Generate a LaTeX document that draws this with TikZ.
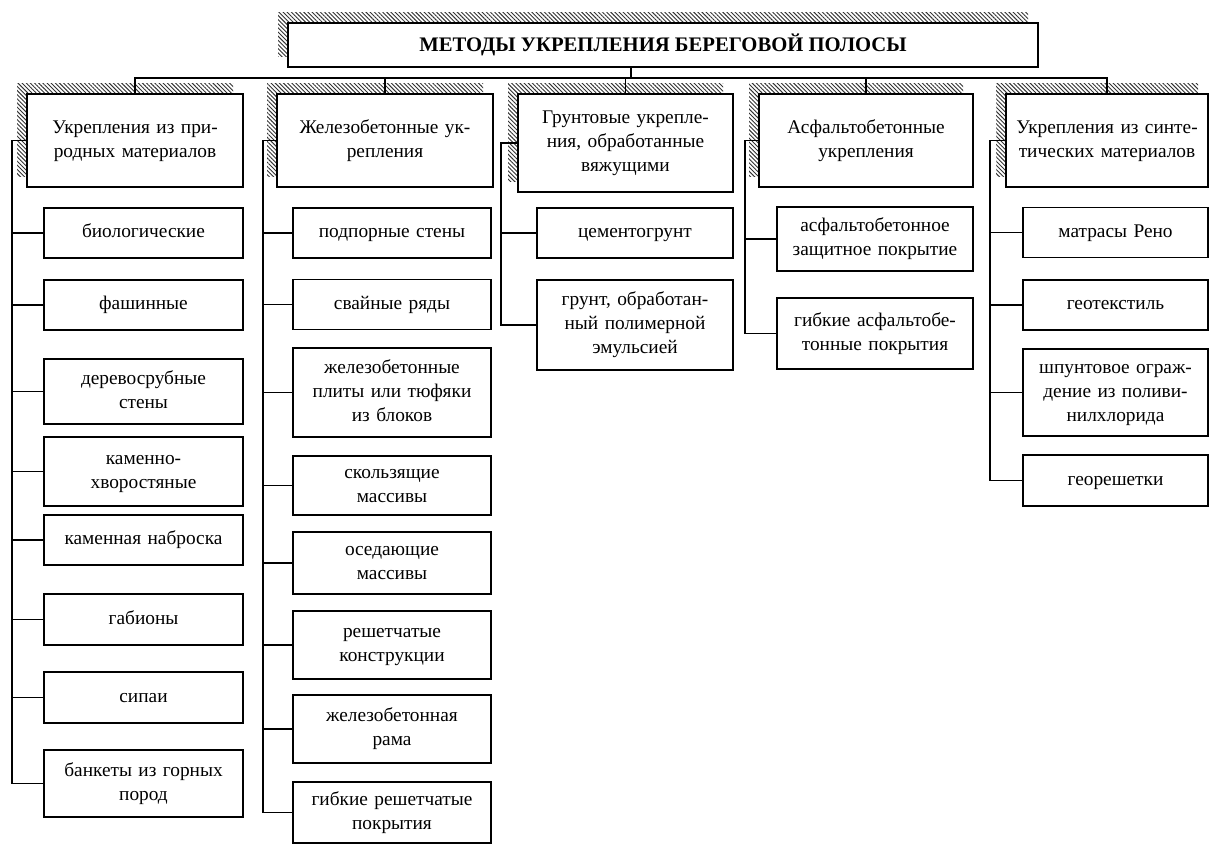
\documentclass[tikz,border=0pt]{standalone}
\usepackage{fontspec}
\setmainfont{Liberation Serif}
\usetikzlibrary{patterns.meta, shadows}

\begin{document}
\begin{tikzpicture}[
    x=0.75pt, y=-0.75pt,
    hatch/.style={general shadow={shadow xshift=-7.5pt, shadow yshift=7.5pt, pattern={Lines[angle=-45, distance=2.2pt, line width=0.7pt]}, pattern color=black!80}},
    titlebox/.style={rectangle, draw, line width=1.8pt, fill=white, hatch, minimum width=562.5pt, minimum height=33pt, font=\fontsize{15.5}{18}\selectfont\bfseries},
    head/.style={rectangle, draw, line width=1.2pt, fill=white, hatch, align=center, text width=140pt, minimum height=69.75pt, font=\fontsize{14.5}{18}\selectfont, execute at begin node=\strut, execute at end node=\strut},
    item/.style={rectangle, draw, line width=1.2pt, fill=white, align=center, text width=130pt, minimum height=37.5pt, font=\fontsize{14.5}{18}\selectfont, execute at begin node=\strut, execute at end node=\strut},
    link/.style={line width=1.1pt}
]
\useasboundingbox (0,0) rectangle (1210,845);

% Title
\node[titlebox] (title) at (663,45) {МЕТОДЫ УКРЕПЛЕНИЯ БЕРЕГОВОЙ ПОЛОСЫ};

% Headers
\node[head, minimum width=162pt] (h1) at (135,140.5) {Укрепления из при-\\родных материалов};
\node[head, minimum width=162pt] (h2) at (385,140.5) {Железобетонные ук-\\репления};
\node[head, minimum width=161.25pt, minimum height=73.5pt] (h3) at (625.5,143) {Грунтовые укрепле-\\ния, обработанные\\вяжущими};
\node[head, minimum width=160.5pt] (h4) at (866,140.5) {Асфальтобетонные\\укрепления};
\node[head, minimum width=151.5pt] (h5) at (1107,140.5) {Укрепления из синте-\\тических материалов};

% Natural materials
\node[item, minimum width=149.25pt] (c11) at (143.5,233) {биологические};
\node[item, minimum width=149.25pt] (c12) at (143.5,305) {фашинные};
\node[item, minimum width=149.25pt, minimum height=48.75pt] (c13) at (143.5,391.5) {деревосрубные\\стены};
\node[item, minimum width=149.25pt, minimum height=51.75pt] (c14) at (143.5,471.5) {каменно-\\хворостяные};
\node[item, minimum width=149.25pt] (c15) at (143.5,540) {каменная наброска};
\node[item, minimum width=149.25pt, minimum height=38.25pt] (c16) at (143.5,619.5) {габионы};
\node[item, minimum width=149.25pt, minimum height=38.25pt] (c17) at (143.5,697.5) {сипаи};
\node[item, minimum width=149.25pt, minimum height=50.25pt] (c18) at (143.5,783.5) {банкеты из горных\\пород};

% Reinforced concrete
\node[item, minimum width=148.5pt] (c21) at (392,233) {подпорные стены};
\node[item, minimum width=148.5pt] (c22) at (392,304.5) {свайные ряды};
\node[item, minimum width=148.5pt, minimum height=66.75pt] (c23) at (392,392.5) {железобетонные\\плиты или тюфяки\\из блоков};
\node[item, minimum width=148.5pt, minimum height=44.25pt] (c24) at (392,485.5) {скользящие\\массивы};
\node[item, minimum width=148.5pt, minimum height=46.5pt] (c25) at (392,563) {оседающие\\массивы};
\node[item, minimum width=148.5pt, minimum height=51pt] (c26) at (392,645) {решетчатые\\конструкции};
\node[item, minimum width=148.5pt, minimum height=51pt] (c27) at (392,729) {железобетонная\\рама};
\node[item, minimum width=148.5pt, minimum height=45.75pt] (c28) at (392,812.5) {гибкие решетчатые\\покрытия};

% Soil with binders
\node[item, minimum width=147pt] (c31) at (635,233) {цементогрунт};
\node[item, minimum width=147pt, minimum height=67.5pt] (c32) at (635,325) {грунт, обработан-\\ный полимерной\\эмульсией};

% Asphalt concrete
\node[item, minimum width=147pt, minimum height=48pt] (c41) at (875,239) {асфальтобетонное\\защитное покрытие};
\node[item, minimum width=147pt, minimum height=53.25pt] (c42) at (875,333.5) {гибкие асфальтобе-\\тонные покрытия};

% Synthetic materials
\node[item, minimum width=138.75pt] (c51) at (1115.5,232.5) {матрасы Рено};
\node[item, minimum width=138.75pt] (c52) at (1115.5,305) {геотекстиль};
\node[item, minimum width=138.75pt, minimum height=65.25pt] (c53) at (1115.5,392.5) {шпунтовое ограж-\\дение из поливи-\\нилхлорида};
\node[item, minimum width=138.75pt, minimum height=38.25pt] (c54) at (1115.5,480.5) {георешетки};

% Bus under the title
\coordinate (bus) at (0,78);
\draw[link] ([xshift=-24pt]title.south) -- ([xshift=-24pt]title.south |- bus);
\draw[link] (h1.north) -- (h1.north |- bus) -- (h5.north |- bus) -- (h5.north);
\draw[link] (h2.north) -- (h2.north |- bus);
\draw[link] (h3.north) -- (h3.north |- bus);
\draw[link] (h4.north) -- (h4.north |- bus);

% Spines
\coordinate (s1) at (12,0);
\coordinate (s2) at (263,0);
\coordinate (s3) at (501,0);
\coordinate (s4) at (745,0);
\coordinate (s5) at (990,0);
\draw[link] (h1.west) -- (h1.west -| s1) -- (c18.west -| s1) -- (c18.west);
\draw[link] (h2.west) -- (h2.west -| s2) -- (c28.west -| s2) -- (c28.west);
\draw[link] (h3.west) -- (h3.west -| s3) -- (c32.west -| s3) -- (c32.west);
\draw[link] (h4.west) -- (h4.west -| s4) -- (c42.west -| s4) -- (c42.west);
\draw[link] (h5.west) -- (h5.west -| s5) -- (c54.west -| s5) -- (c54.west);

% Stubs
\foreach \c in {c11,c12,c13,c14,c15,c16,c17}
    \draw[link] (\c.west -| s1) -- (\c.west);
\foreach \c in {c21,c22,c23,c24,c25,c26,c27}
    \draw[link] (\c.west -| s2) -- (\c.west);
\draw[link] (c31.west -| s3) -- (c31.west);
\draw[link] (c41.west -| s4) -- (c41.west);
\foreach \c in {c51,c52,c53}
    \draw[link] (\c.west -| s5) -- (\c.west);

\end{tikzpicture}
\end{document}
